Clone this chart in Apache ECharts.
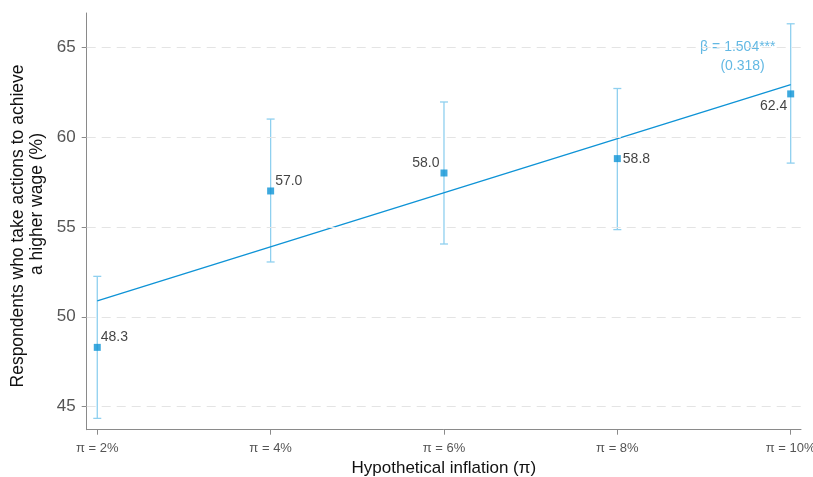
<!DOCTYPE html>
<html>
<head>
<meta charset="utf-8">
<script src="https://cdn.jsdelivr.net/npm/echarts@6/dist/echarts.min.js"></script>
<style>
  html, body { margin: 0; padding: 0; background: #fff; }
  #chart { width: 813px; height: 477px; }
</style>
</head>
<body>
<div id="chart"></div>
<script>
// Hypothetical inflation scenarios (percent) and their tick labels
const inflation = [2, 4, 6, 8, 10];
const tickLabels = ['π = 2%', 'π = 4%', 'π = 6%', 'π = 8%', 'π = 10%'];

// Share of respondents taking action, with 95% confidence bounds
const shares = [48.3, 57.0, 58.0, 58.8, 62.4];
const ciLow = [44.35, 53.05, 54.05, 54.85, 58.55];
const ciHigh = [52.25, 61.0, 61.95, 62.7, 66.3];

// Linear fit evaluated at the two ends of the inflation range
const fitX = [2, 10];
const fitY = [50.88, 62.92];

const yTicks = [45, 50, 55, 60, 65];
const yTitleLines = ['Respondents who take actions to achieve', 'a higher wage (%)'];
const xTitle = 'Hypothetical inflation (π)';
const slopeText = 'β = 1.504***';
const seText = '(0.318)';

const blue = '#0e93d6';
const ciBlue = '#8fd0ef';
const font = '"Liberation Sans", Arial, sans-serif';

// Label placement per point (position around the marker)
const labelPos = ['right', 'right', 'left', 'right', 'left'];
const labelOffset = [[-3, -10], [-2, -10], [2, -10], [-1, 1], [3, 12]];

const chart = echarts.init(document.getElementById('chart'));

chart.setOption({
  animation: false,
  textStyle: { fontFamily: font },
  grid: { left: 86.7, right: 12, top: 13, bottom: 47.3, outerBoundsMode: 'none', containLabel: false },
  // rotated two-line y-axis title
  graphic: [
    {
      type: 'text', x: 18.5, y: 226, rotation: Math.PI / 2,
      style: { text: yTitleLines[0], fill: '#111', font: '17.5px ' + font, align: 'center', verticalAlign: 'middle' }
    },
    {
      type: 'text', x: 37.5, y: 204, rotation: Math.PI / 2,
      style: { text: yTitleLines[1], fill: '#111', font: '17.5px ' + font, align: 'center', verticalAlign: 'middle' }
    }
  ],
  xAxis: {
    type: 'value',
    min: 1.878,
    max: 10.119,
    name: xTitle,
    nameLocation: 'middle',
    nameGap: 29,
    nameTextStyle: { color: '#111', fontSize: 17, fontFamily: font },
    axisLine: { show: true, lineStyle: { color: '#8a8a8a', width: 1 } },
    axisTick: { show: true, length: 5, customValues: inflation, lineStyle: { color: '#8a8a8a' } },
    axisLabel: {
      customValues: inflation,
      color: '#555',
      fontSize: 13,
      margin: 12,
      formatter: v => tickLabels[inflation.indexOf(v)]
    },
    splitLine: { show: false }
  },
  yAxis: {
    type: 'value',
    min: 43.72,
    max: 66.9,
    axisLine: { show: true, lineStyle: { color: '#8a8a8a', width: 1 } },
    axisTick: { show: true, length: 5, customValues: yTicks, lineStyle: { color: '#8a8a8a' } },
    axisLabel: { customValues: yTicks, color: '#555', fontSize: 17, margin: 11 },
    splitLine: { show: false }
  },
  series: [
    {
      // dashed reference lines at each y tick
      type: 'line',
      data: [],
      silent: true,
      markLine: {
        silent: true,
        symbol: ['none', 'none'],
        label: { show: false },
        lineStyle: { color: '#e4e4e4', type: [9, 6], width: 1 },
        data: yTicks.map(v => ({ yAxis: v }))
      }
    },
    {
      // confidence interval whiskers with caps
      type: 'custom',
      data: inflation.map((x, i) => [x, ciLow[i], ciHigh[i]]),
      renderItem: (params, api) => {
        const lo = api.coord([api.value(0), api.value(1)]);
        const hi = api.coord([api.value(0), api.value(2)]);
        const cap = 4;
        const style = { stroke: ciBlue, lineWidth: 1.3 };
        return {
          type: 'group',
          children: [
            { type: 'line', shape: { x1: lo[0], y1: lo[1], x2: hi[0], y2: hi[1] }, style },
            { type: 'line', shape: { x1: lo[0] - cap, y1: lo[1], x2: lo[0] + cap, y2: lo[1] }, style },
            { type: 'line', shape: { x1: hi[0] - cap, y1: hi[1], x2: hi[0] + cap, y2: hi[1] }, style }
          ]
        };
      },
      z: 2
    },
    {
      // fitted regression line
      type: 'line',
      data: fitX.map((x, i) => [x, fitY[i]]),
      symbol: 'none',
      lineStyle: { color: blue, width: 1.3 },
      z: 3
    },
    {
      // point estimates
      type: 'scatter',
      data: inflation.map((x, i) => ({
        value: [x, shares[i]],
        label: {
          show: true,
          position: labelPos[i],
          offset: labelOffset[i],
          distance: 3,
          formatter: shares[i].toFixed(1),
          color: '#111',
          fontSize: 14,
          fontFamily: font
        }
      })),
      symbol: 'rect',
      symbolSize: 7,
      itemStyle: { color: blue },
      z: 4
    },
    {
      // slope coefficient and its standard error
      type: 'scatter',
      data: [
        { value: [9.39, 65.0], label: { formatter: slopeText } },
        { value: [9.445, 63.94], label: { formatter: seText } }
      ],
      symbolSize: 0,
      silent: true,
      label: {
        show: true,
        position: 'inside',
        align: 'center',
        color: '#3ba6dc',
        fontSize: 14,
        fontFamily: font
      }
    }
  ]
});
</script>
</body>
</html>
